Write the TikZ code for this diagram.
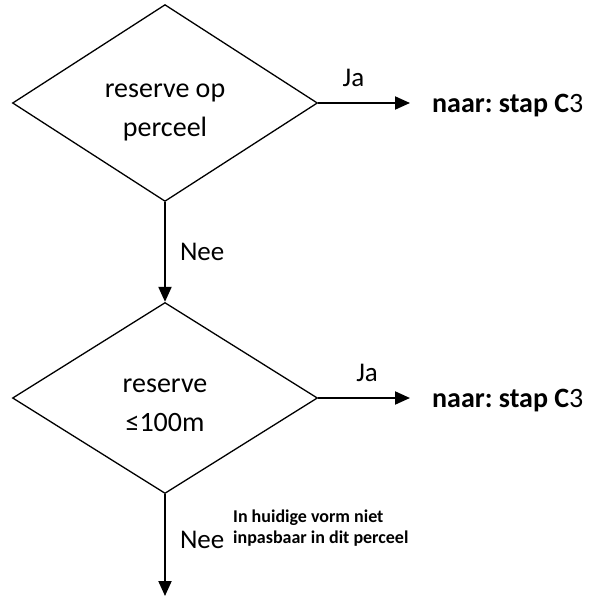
\documentclass[tikz,border=0pt]{standalone}
\usepackage{fontspec}
\setmainfont{Carlito}
\frenchspacing
\usetikzlibrary{arrows.meta,positioning,shapes.geometric}

\begin{document}
\begin{tikzpicture}[
  x=1pt, y=1pt,
  font=\fontsize{28}{39}\selectfont,
  check/.style={draw, diamond, line width=1.3pt, inner sep=0pt, align=center,
    minimum width=305pt, minimum height=191pt},
  flow/.style={-{Triangle[length=15pt, width=13pt]}, line width=2pt},
  answer/.style={inner sep=0pt, font=\fontsize{27}{32}\selectfont},
  goto/.style={anchor=base west, inner sep=0pt},
]
\useasboundingbox (0,0) rectangle (593,-597);

% the two checks (the rule pushes the lines a bit below the middle)
\node[check] (res) at (165,-103) {\rule{0pt}{33pt}reserve op\\perceel};
\node[check] (small) at (165,-398) {\rule{0pt}{28pt}reserve\\≤100m};

% where the yes branches lead
\node[goto] (stapA) at (432,-112) {\textbf{naar: stap C}3};
\node[goto] (stapB) at (432,-407) {\textbf{naar: stap C}3};
\node[anchor=west, inner sep=0pt, align=left, font=\bfseries\fontsize{18}{21}\selectfont]
  (fail) at (233,-528) {In huidige vorm niet\\inpasbaar in dit perceel};
\coordinate (out) at (165,-596);

\draw[flow] (res) -- (res -| stapA.west) [shorten >=22pt]
  node[answer, pos=0.31, above=15pt] {Ja};
\draw[flow] (small) -- (small -| stapB.west) [shorten >=22pt]
  node[answer, pos=0.43, above=15pt] {Ja};
\draw[flow] (res) -- (small) node[answer, midway, right=14pt] {Nee};
\draw[flow] (small) -- (out) node[answer, pos=0.45, right=14pt] {Nee};
\end{tikzpicture}
\end{document}
